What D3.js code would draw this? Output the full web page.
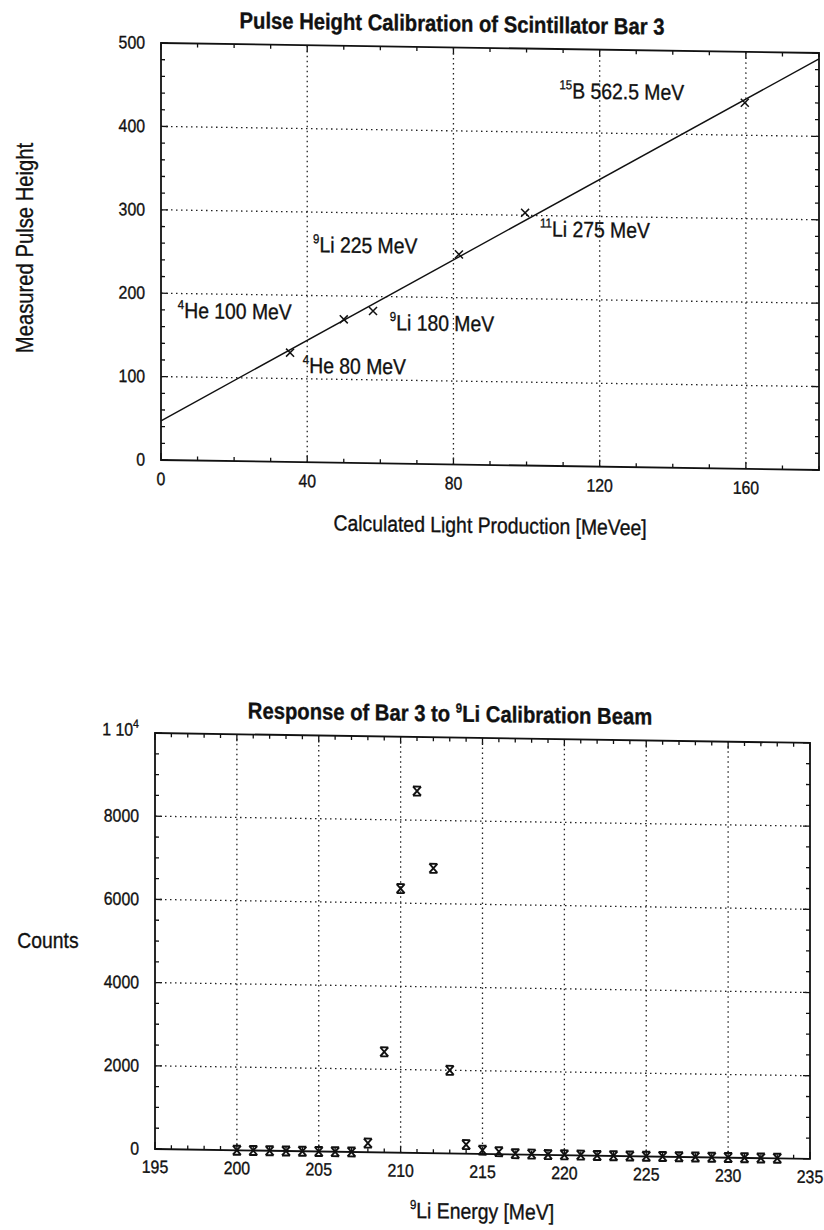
<!DOCTYPE html>
<html>
<head>
<meta charset="utf-8">
<script src="https://cdn.jsdelivr.net/npm/d3@7"></script>
<style>
  body { margin: 0; background: #fff; }
  text { font-family: "Liberation Sans", Arial, Helvetica, sans-serif; fill: #111; stroke: #111; stroke-width: 0.35; }
</style>
</head>
<body>
<svg id="chart" width="824" height="1230"></svg>
<script>
// --- top chart: pulse height calibration ---
const lightProd = [35.3, 50, 58, 81.5, 99.6, 159.7]
const pulseHeight = [131, 172, 182.5, 252, 303, 439]
// straight line fit through the points
const fitX = [0, 180]
const fitY = [47, 493]
// beam labels (isotope, rest of label, anchor in data units)
const beamIso = ["15", "11", "9", "4", "9", "4"]
const beamName = ["B 562.5 MeV", "Li 275 MeV", "Li 225 MeV", "He 100 MeV", "Li 180 MeV", "He 80 MeV"]
const beamX = [109, 103.7, 41.6, 4.6, 62.6, 38.8]
const beamY = [441, 275, 252, 170.6, 160, 107]
const topXTicks = [0, 40, 80, 120, 160]
const topYTicks = [0, 100, 200, 300, 400, 500]

// --- bottom chart: 9Li beam response ---
const energy = [200, 201, 202, 203, 204, 205, 206, 207, 208, 209, 210, 211, 212, 213, 214, 215, 216,
  217, 218, 219, 220, 221, 222, 223, 224, 225, 226, 227, 228, 229, 230, 231, 232, 233]
const counts = [0, 0, 0, 0, 0, 0, 0, 0, 220, 2420, 6350, 8700, 6850, 2000, 220, 90, 60,
  20, 15, 10, 10, 10, 5, 5, 5, 5, 5, 5, 5, 5, 5, 5, 5, 5]
const botXTicks = [195, 200, 205, 210, 215, 220, 225, 230, 235]
const botYTicks = [0, 2000, 4000, 6000, 8000, 10000]

const svg = d3.select("#chart")
const sx = 0.88   // the scanned font is a narrow helvetica
const skew = 0.87 // the scan is a bit crooked

// put a narrow text at x,y
function label(g, x, y, str, size, anchor, weight) {
  return g.append("text")
    .attr("transform", `translate(${x},${y}) scale(${sx},1)`)
    .attr("text-anchor", anchor || "middle")
    .attr("font-size", size)
    .attr("font-weight", weight || "normal")
    .text(str)
}

// frame, inward ticks on all 4 sides and dotted grid
function drawFrame(g, x, y, majX, minX, majY, minY) {
  const [x0, x1] = x.range()
  const [y0, y1] = y.range()
  const ticks = g.append("g").attr("stroke", "#111").attr("stroke-width", 1.3)
  minX.forEach(v => {
    const len = majX.includes(v) ? 7 : 4
    ticks.append("line").attr("x1", x(v)).attr("x2", x(v)).attr("y1", y0).attr("y2", y0 - len)
    ticks.append("line").attr("x1", x(v)).attr("x2", x(v)).attr("y1", y1).attr("y2", y1 + len)
  })
  minY.forEach(v => {
    const len = majY.includes(v) ? 7 : 4
    ticks.append("line").attr("y1", y(v)).attr("y2", y(v)).attr("x1", x0).attr("x2", x0 + len)
    ticks.append("line").attr("y1", y(v)).attr("y2", y(v)).attr("x1", x1).attr("x2", x1 - len)
  })
  const grid = g.append("g").attr("stroke", "#222").attr("stroke-width", 1.3)
    .attr("stroke-dasharray", "1.5,3.5")
  majX.filter(v => x(v) > x0 + 1 && x(v) < x1 - 1).forEach(v => {
    grid.append("line").attr("x1", x(v)).attr("x2", x(v)).attr("y1", y0).attr("y2", y1)
  })
  majY.filter(v => y(v) < y0 - 1 && y(v) > y1 + 1).forEach(v => {
    grid.append("line").attr("y1", y(v)).attr("y2", y(v)).attr("x1", x0).attr("x2", x1)
  })
  g.append("rect")
    .attr("x", x0).attr("y", y1).attr("width", x1 - x0).attr("height", y0 - y1)
    .attr("fill", "none").attr("stroke", "#111").attr("stroke-width", 1.8)
}

// ---------------- top chart ----------------
{
  const x = d3.scaleLinear().domain([0, 180]).range([161, 819])
  const y = d3.scaleLinear().domain([0, 500]).range([460, 43])
  const g = svg.append("g").attr("transform", `translate(161,0) skewY(${skew}) translate(-161,0)`)

  drawFrame(g, x, y, topXTicks, d3.range(0, 181, 10), topYTicks, d3.range(0, 501, 20))

  // fit line
  const line = d3.line().x((d, i) => x(fitX[i])).y((d, i) => y(fitY[i]))
  g.append("path").attr("d", line(fitX)).attr("fill", "none")
    .attr("stroke", "#111").attr("stroke-width", 1.4)

  // measured points
  g.append("g").selectAll("path").data(lightProd).join("path")
    .attr("transform", (d, i) => `translate(${x(d)},${y(pulseHeight[i])})`)
    .attr("d", "M-4,-4L4,4M-4,4L4,-4")
    .attr("stroke", "#111").attr("stroke-width", 1.5)

  // beam labels with superscript mass number
  beamName.forEach((name, i) => {
    const t = label(g, x(beamX[i]), y(beamY[i]), "", 22, "start")
    t.append("tspan").attr("font-size", 13).attr("dy", -9).text(beamIso[i])
    t.append("tspan").attr("dy", 9).text(name)
  })

  // tick labels
  topXTicks.forEach(v => label(g, x(v), 485, v, 18))
  topYTicks.forEach(v => label(g, 145, y(v) + 6, v, 18, "end"))

  label(g, 452, 27, "Pulse Height Calibration of Scintillator Bar 3", 23, "middle", "bold")
  label(g, 490, 528, "Calculated Light Production [MeVee]", 22)
  svg.append("text")
    .attr("transform", `translate(33,248) rotate(-90) scale(${sx},1)`)
    .attr("text-anchor", "middle").attr("font-size", 23)
    .text("Measured Pulse Height")
}

// ---------------- bottom chart ----------------
{
  const x = d3.scaleLinear().domain([195, 235]).range([155, 810])
  const y = d3.scaleLinear().domain([0, 10000]).range([1149, 733])
  const g = svg.append("g").attr("transform", `translate(155,0) skewY(${skew}) translate(-155,0)`)

  drawFrame(g, x, y, botXTicks, d3.range(195, 236, 1), botYTicks, d3.range(0, 10001, 500))

  // count points, x with error bar caps
  g.append("g").selectAll("path").data(energy).join("path")
    .attr("transform", (d, i) => `translate(${x(d)},${y(counts[i])})`)
    .attr("d", "M-4,-4.5L4,4.5M-4,4.5L4,-4.5M-4,-4.5L4,-4.5M-4,4.5L4,4.5")
    .attr("stroke", "#111").attr("stroke-width", 1.9)

  botXTicks.forEach(v => label(g, x(v), 1173, v, 18))
  botYTicks.forEach(v => {
    if (v === 10000) {
      const t = label(g, 139, y(v) + 3, "", 18, "end")
      t.append("tspan").text("1 10")
      t.append("tspan").attr("font-size", 12).attr("dy", -8).text("4")
    } else {
      label(g, 139, y(v) + 6, v, 18, "end")
    }
  })

  const t = label(g, 450, 717, "", 23, "middle", "bold")
  t.append("tspan").text("Response of Bar 3 to ")
  t.append("tspan").attr("font-size", 13).attr("dy", -9).text("9")
  t.append("tspan").attr("dy", 9).text("Li Calibration Beam")

  const xt = label(g, 482, 1214, "", 22)
  xt.append("tspan").attr("font-size", 13).attr("dy", -9).text("9")
  xt.append("tspan").attr("dy", 9).text("Li Energy [MeV]")

  label(svg, 48, 948, "Counts", 22)
}
</script>
</body>
</html>
